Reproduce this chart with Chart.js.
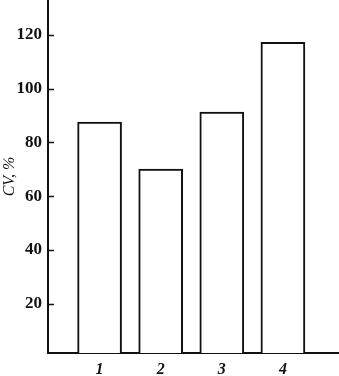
<!DOCTYPE html>
<html>
<head>
<meta charset="utf-8">
<script src="https://cdn.jsdelivr.net/npm/chart.js@4/dist/chart.umd.min.js"></script>
<style>
  html, body { margin: 0; padding: 0; background: #fff; }
  #wrap { width: 339px; height: 376px; }
</style>
</head>
<body>
<div id="wrap"><canvas id="chartCanvasId"></canvas></div>
<script>
// data
const categories = ['1', '2', '3', '4'];
const cvValues = [87.6, 70.1, 91.3, 117.3];
const yTickValues = [20, 40, 60, 80, 100, 120];

// small inward tick marks on the y axis
const inwardTicks = {
    id: 'inwardTicks',
    afterDraw(chart) {
        const ctx = chart.ctx;
        const y = chart.scales.y;
        ctx.save();
        ctx.strokeStyle = '#111';
        ctx.lineWidth = 1.5;
        yTickValues.forEach(v => {
            const py = Math.round(y.getPixelForValue(v)) + 0.5;
            ctx.beginPath();
            ctx.moveTo(y.right, py);
            ctx.lineTo(y.right + 6, py);
            ctx.stroke();
        });
        ctx.restore();
    }
};

window.addEventListener("DOMContentLoaded", init);

function init() {
    const chartCanvas = document.getElementById("chartCanvasId");

    new Chart(chartCanvas, {
        type: 'bar',
        data: {
            datasets: [{
                data: cvValues.map((v, i) => ({ x: i + 1, y: v })),
                backgroundColor: '#fff',
                borderColor: '#111',
                borderWidth: 2,
                barThickness: 44
            }]
        },
        options: {
            responsive: true,
            maintainAspectRatio: false,
            animation: false,
            layout: { padding: 0 },
            plugins: { legend: { display: false }, tooltip: { enabled: false } },
            scales: {
                x: {
                    type: 'linear',
                    offset: false,
                    min: 0.156,
                    max: 4.918,
                    afterBuildTicks: s => { s.ticks = categories.map((c, i) => ({ value: i + 1 })); },
                    afterFit: s => { s.height = 23; s.paddingLeft = 0; s.paddingRight = 0; },
                    grid: { display: false, drawTicks: false },
                    border: { display: true, color: '#111', width: 2 },
                    ticks: {
                        padding: 7,
                        color: '#111',
                        font: { family: 'Liberation Serif', size: 16, style: 'italic', weight: 'bold' },
                        callback: v => categories[v - 1]
                    }
                },
                y: {
                    min: 1.7,
                    max: 133,
                    afterBuildTicks: s => { s.ticks = yTickValues.map(v => ({ value: v })); },
                    afterFit: s => { s.width = 48; s.paddingTop = 0; s.paddingBottom = 0; },
                    grid: { display: false, drawTicks: false },
                    border: { display: true, color: '#111', width: 2 },
                    title: {
                        display: true,
                        text: 'CV, %',
                        color: '#111',
                        padding: 0,
                        font: { family: 'Liberation Serif', size: 16, style: 'italic' }
                    },
                    ticks: {
                        padding: 6,
                        color: '#111',
                        font: { family: 'Liberation Serif', size: 17, weight: 'bold' }
                    }
                }
            }
        },
        plugins: [inwardTicks]
    });
}
</script>
</body>
</html>
